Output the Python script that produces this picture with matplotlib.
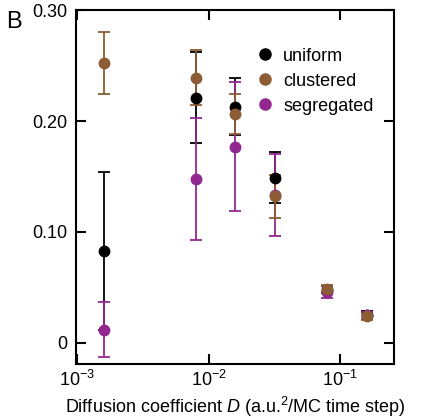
import matplotlib
matplotlib.use("Agg")
import matplotlib.pyplot as plt
from matplotlib.lines import Line2D
from matplotlib.ticker import NullLocator, FixedLocator

plt.rcParams['font.family'] = ['Liberation Sans', 'DejaVu Sans']
plt.rcParams['mathtext.fontset'] = 'custom'
plt.rcParams['mathtext.rm'] = 'Liberation Sans'
plt.rcParams['mathtext.it'] = 'Liberation Sans:italic'

# Data
D = [0.0016, 0.008, 0.016, 0.032, 0.08, 0.16]
uniform = [0.083, 0.221, 0.213, 0.149, 0.048, 0.025]
uniform_err = [0.071, 0.041, 0.026, 0.023, 0.003, 0.0035]
clustered = [0.252, 0.239, 0.206, 0.132, 0.049, 0.024]
clustered_err = [0.028, 0.025, 0.018, 0.019, 0.003, 0.003]
segregated = [0.012, 0.148, 0.177, 0.133, 0.046, 0.025]
segregated_err = [0.025, 0.055, 0.058, 0.037, 0.0055, 0.003]

labels = ["uniform", "clustered", "segregated"]
colors = ["black", "#8c5d35", "#93278f"]

fig = plt.figure(figsize=(4.37, 4.20), dpi=100)
ax = fig.add_axes([0.174, 0.1333, 0.7276, 0.8427])

# draw order: uniform, segregated, clustered (clustered on top)
series = [(uniform, uniform_err, colors[0]),
          (segregated, segregated_err, colors[2]),
          (clustered, clustered_err, colors[1])]
for vals, errs, c in series:
    ax.errorbar(D, vals, yerr=errs, fmt='o', color=c, ms=7.5, elinewidth=1.3,
                capsize=4, capthick=1.3, mec=c, mfc=c)

ax.set_xscale('log')
ax.set_xlim(0.00098, 0.257)
ax.set_ylim(-0.019, 0.30)
ax.xaxis.set_major_locator(FixedLocator([1e-3, 1e-2, 1e-1]))
ax.xaxis.set_minor_locator(NullLocator())
ax.set_yticks([0, 0.10, 0.20, 0.30])
ax.set_yticklabels(["0", "0.10", "0.20", "0.30"])

ax.tick_params(which='both', direction='in', top=True, right=True,
               length=7.5, width=1.5, labelsize=13)
ax.tick_params(axis='y', pad=6)
ax.tick_params(axis='x', pad=4)
for sp in ax.spines.values():
    sp.set_linewidth(1.5)

ax.set_xlabel("Diffusion coefficient $\\mathit{D}$ (a.u.$^2$/MC time step)", fontsize=13, labelpad=4)

handles = [Line2D([], [], marker='o', ls='none', color=c, ms=8) for c in colors]
ax.legend(handles, labels, loc='upper left', bbox_to_anchor=(0.515, 0.94),
          frameon=False, fontsize=13, handlelength=1.0, handletextpad=0.5,
          labelspacing=0.45)

fig.text(0.015, 0.975, "B", fontsize=17, va='top', ha='left')

fig.savefig("out.png", dpi=100)
